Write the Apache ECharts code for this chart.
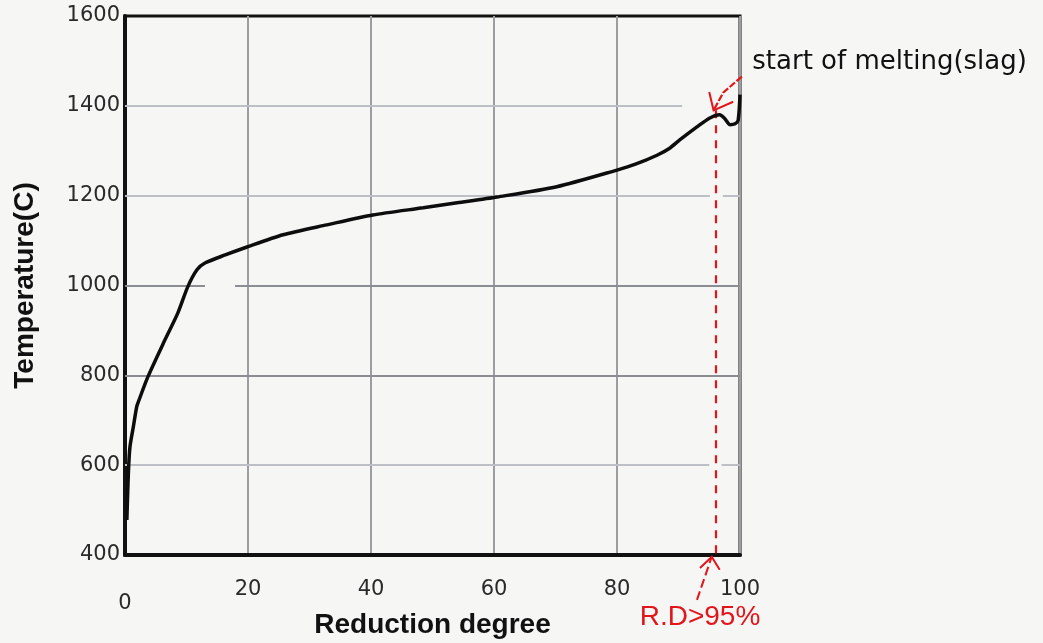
<!DOCTYPE html>
<html>
<head>
<meta charset="utf-8">
<script src="https://cdn.jsdelivr.net/npm/echarts@6/dist/echarts.min.js"></script>
<style>
  html, body { margin: 0; padding: 0; background: #f6f6f4; }
  #chart { width: 1043px; height: 643px; }
</style>
</head>
<body>
<div id="chart"></div>
<script>
// Reduction degree (%) and measured temperature (C) along the run
const reduction = [0.3, 0.55, 0.8, 1.35, 1.9, 2.2, 3.7, 6.5, 8.6, 10.2, 11.7, 13, 16.3, 19.5,
  25.7, 32.8, 40.3, 48.5, 54, 60.5, 70.2, 80, 83, 86.5, 88.5, 90.2, 93, 95.1, 96.7, 97.5, 98.4, 99.2, 99.7, 100];
const temperature = [478, 583, 640, 685, 730, 742, 796, 879, 939, 997, 1035, 1050, 1068, 1084,
  1113, 1135, 1157, 1173, 1184, 1197, 1220, 1257, 1270, 1290, 1305, 1324, 1353, 1373, 1380, 1372, 1358, 1360, 1368, 1425];

// Axis ticks
const xTicks = [0, 20, 40, 60, 80, 100];
const yTicks = [400, 600, 800, 1000, 1200, 1400, 1600];

// Horizontal grid rules: [temperature, from RD, to RD, shade]
const hGridSegments = [
  [1400, 0, 90.6, 'light'],
  [1200, 0, 95.1, 'light'], [1200, 97.2, 100, 'light'],
  [1000, 0, 13, 'dark'], [1000, 17.9, 100, 'dark'],
  [800, 0, 100, 'dark'],
  [600, 0, 95, 'light'], [600, 97, 100, 'light']
];

// Onset of slag melting
const meltingRD = 96;
const meltingTemp = 1390;
const meltingLabel = 'start of melting(slag)';
const rdLabel = 'R.D>95%';

const chart = echarts.init(document.getElementById('chart'));

const curve = reduction.map((x, i) => [x, temperature[i]]);
const shades = { light: '#bdbfc6', dark: '#8c8d93' };

const option = {
  backgroundColor: '#f6f6f4',
  animation: false,
  grid: {
    left: 125, top: 16, width: 615, height: 539,
    outerBoundsMode: 'none', containLabel: false,
    show: true, borderColor: '#111', borderWidth: 3, backgroundColor: 'transparent'
  },
  xAxis: {
    type: 'value', min: xTicks[0], max: xTicks[xTicks.length - 1], interval: 20,
    name: 'Reduction degree', nameLocation: 'middle', nameGap: 56, nameMoveOverlap: false,
    nameTextStyle: { fontFamily: 'Liberation Sans', fontWeight: 'bold', fontSize: 28, color: '#111' },
    axisLine: { lineStyle: { color: '#111', width: 4 } },
    axisTick: { show: false },
    axisLabel: {
      margin: 24, fontFamily: 'DejaVu Sans', fontSize: 21, color: '#2a2a2a',
      formatter: v => v === 0 ? '{z|0}' : String(v),
      rich: { z: { fontFamily: 'DejaVu Sans', fontSize: 21, color: '#2a2a2a', padding: [14, 0, 0, 0] } }
    },
    splitLine: { show: true, lineStyle: { color: '#9c9ca2', width: 2 } }
  },
  yAxis: {
    type: 'value', min: yTicks[0], max: yTicks[yTicks.length - 1], interval: 200,
    name: 'Temperature(C)', nameLocation: 'middle', nameGap: 86, nameMoveOverlap: false,
    nameTextStyle: { fontFamily: 'Liberation Sans', fontWeight: 'bold', fontSize: 28, color: '#111' },
    axisLine: { show: true, lineStyle: { color: '#111', width: 4 } },
    axisTick: { show: false },
    axisLabel: { margin: 5, fontFamily: 'DejaVu Sans', fontSize: 21, color: '#2a2a2a', formatter: v => String(v) },
    splitLine: { show: false }
  },
  series: [
    {
      type: 'line',
      name: 'grid',
      data: [],
      silent: true,
      markLine: {
        silent: true, symbol: 'none', animation: false,
        label: { show: false },
        data: hGridSegments.map(s => [
          { coord: [s[1], s[0]], lineStyle: { color: shades[s[3]], width: 2, type: 'solid' } },
          { coord: [s[2], s[0]] }
        ])
      }
    },
    {
      type: 'line',
      name: 'temperature',
      data: curve,
      smooth: 0.25,
      showSymbol: false,
      clip: false,
      lineStyle: { color: '#0d0d0d', width: 3.5 },
      z: 5,
      markLine: {
        silent: true, symbol: 'none', animation: false,
        label: { show: false },
        lineStyle: { color: '#e4141b', width: 2.2, type: [8, 7] },
        data: [[{ coord: [meltingRD, meltingTemp] }, { coord: [meltingRD, yTicks[0]] }]]
      }
    }
  ]
};

chart.setOption(option);

// Red call-outs placed in data units and converted to pixels
const px = p => chart.convertToPixel({ gridIndex: 0 }, p);
const red = '#e4141b';
const topTip = px([95.7, meltingTemp]);
const topTail = px([100.3, 1465]);
const topBend = px([97.3, 1430]);
const topBarbA = px([95.0, 1431]);
const topBarbB = px([98.9, 1409]);
const botTip = px([95.4, 396]);
const botTail = px([93.0, 300]);
const botBarbA = px([93.5, 371]);
const botBarbB = px([96.7, 367]);
const meltText = px([102, 1496]);
const rdText = px([93.5, 262]);

chart.setOption({
  graphic: [
    { type: 'polyline', shape: { points: [topTail, topBend, topTip] }, style: { stroke: red, lineWidth: 2.2, fill: null, lineDash: [7, 2] }, z: 20 },
    { type: 'polyline', shape: { points: [topBarbA, topTip, topBarbB] }, style: { stroke: red, lineWidth: 2, fill: null }, z: 20 },
    { type: 'polyline', shape: { points: [botTail, botTip] }, style: { stroke: red, lineWidth: 2, fill: null, lineDash: [9, 4] }, z: 20 },
    { type: 'polyline', shape: { points: [botBarbA, botTip, botBarbB] }, style: { stroke: red, lineWidth: 2, fill: null }, z: 20 },
    { type: 'text', x: meltText[0], y: meltText[1], style: { text: meltingLabel, font: '26px "DejaVu Sans"', fill: '#111', verticalAlign: 'middle', align: 'left' }, z: 20 },
    { type: 'text', x: rdText[0], y: rdText[1], style: { text: rdLabel, font: '28px "Liberation Sans"', fill: red, verticalAlign: 'middle', align: 'center' }, z: 20 }
  ]
});
</script>
</body>
</html>
